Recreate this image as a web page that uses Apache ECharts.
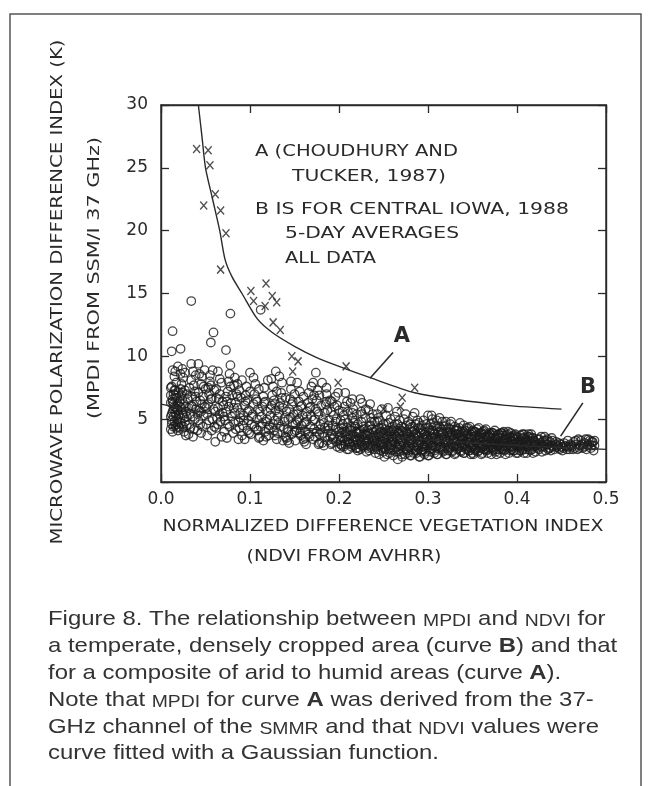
<!DOCTYPE html>
<html>
<head>
<meta charset="utf-8">
<script src="https://cdn.jsdelivr.net/npm/echarts@6/dist/echarts.min.js"></script>
<style>
html,body{margin:0;padding:0;background:#fff;}
#chart{width:649px;height:786px;}
</style>
</head>
<body>
<div id="chart"></div>
<script>
// ---------- DATA ----------
const xTicks = [0.0, 0.1, 0.2, 0.3, 0.4, 0.5];
const yTicks = [5, 10, 15, 20, 25, 30];

// Curve A (Choudhury and Tucker, 1987): [NDVI, MPDI]
const curveA = [[0.042,30],[0.046,27.5],[0.050,25],[0.058,22.5],[0.066,20],[0.072,17.7],[0.080,16.3],[0.091,15.0],[0.108,13.0],[0.125,11.9],[0.150,10.8],[0.175,9.9],[0.200,9.2],[0.235,8.3],[0.285,7.1],[0.327,6.6],[0.387,6.1],[0.450,5.8]];
// Curve B (central Iowa, 1988)
const curveB = [[0.0,6.2],[0.05,5.5],[0.10,4.9],[0.15,4.4],[0.20,4.0],[0.25,3.65],[0.30,3.35],[0.35,3.1],[0.40,2.9],[0.45,2.75],[0.50,2.6]];

// "x" points (composite of arid to humid areas)
const crossPts = [[0.040,26.5],[0.053,26.4],[0.055,25.2],[0.061,22.9],[0.048,22.0],[0.067,21.6],[0.073,19.8],[0.067,16.9],[0.101,15.2],[0.118,15.8],[0.104,14.4],[0.125,14.8],[0.130,14.3],[0.117,14.0],[0.126,12.7],[0.134,12.1],[0.147,10.0],[0.154,9.6],[0.148,8.8],[0.208,9.2],[0.199,7.9],[0.285,7.5],[0.271,6.7],[0.269,6.0],[0.250,5.8]];

// "o" points: central Iowa 1988, 5-day averages
const circlePts = [
[0.011,4.2],[0.012,4.9],[0.013,5.6],[0.011,6.3],[0.014,7.0],[0.012,7.6],[0.015,8.4],[0.013,8.9],[0.016,4.5],[0.017,5.3],[0.015,6.0],[0.018,6.7],[0.016,7.3],[0.019,4.1],[0.018,5.0],[0.014,5.8],[0.019,6.2],[0.017,7.9],[0.012,10.4],[0.013,12.0],[0.016,5.5],[0.013,6.6],[0.018,4.6],[0.015,4.8],[0.011,5.2],[0.019,5.7],[0.017,6.9],[0.014,4.4],
[0.021,4.3],[0.022,5.1],[0.023,5.9],[0.024,6.6],[0.022,7.4],[0.025,8.3],[0.022,10.6],[0.026,4.0],[0.027,4.8],[0.028,5.6],[0.026,6.2],[0.029,7.0],[0.027,8.7],[0.024,9.0],[0.028,3.7],[0.021,6.0],[0.025,5.3],[0.029,4.5],[0.023,7.8],[0.030,6.6],
[0.031,3.8],[0.032,4.6],[0.033,5.4],[0.034,6.1],[0.035,6.8],[0.032,7.5],[0.034,8.1],[0.036,8.8],[0.034,9.4],[0.034,14.4],[0.037,4.2],[0.038,5.0],[0.039,5.8],[0.036,3.6],[0.038,7.2],[0.040,6.4],[0.031,5.9],[0.039,8.5],
[0.041,4.1],[0.042,4.9],[0.043,5.7],[0.044,6.5],[0.042,7.1],[0.045,7.8],[0.042,9.4],[0.046,8.4],[0.047,4.4],[0.048,5.3],[0.049,6.0],[0.047,6.8],[0.050,7.4],[0.045,3.9],[0.049,8.9],
[0.051,4.6],[0.052,5.4],[0.053,6.2],[0.054,7.0],[0.056,7.7],[0.055,8.5],[0.056,11.1],[0.059,11.9],[0.057,4.1],[0.058,5.0],[0.059,5.8],[0.057,6.6],[0.060,7.3],[0.052,3.7],[0.055,8.0],[0.060,4.4],
[0.061,3.2],[0.062,4.3],[0.063,5.1],[0.064,5.9],[0.065,6.6],[0.062,7.4],[0.066,8.2],[0.067,4.8],[0.068,3.6],[0.069,5.5],[0.066,7.0],[0.070,6.1],[0.064,8.8],
[0.071,4.0],[0.072,4.9],[0.073,5.6],[0.074,6.4],[0.073,10.5],[0.075,7.2],[0.076,8.0],[0.078,9.3],[0.078,13.4],[0.077,4.4],[0.079,5.2],[0.076,6.0],[0.080,6.9],[0.074,3.5],[0.078,7.6],
[0.081,3.9],[0.082,4.7],[0.083,5.5],[0.084,6.3],[0.085,7.0],[0.086,7.8],[0.087,3.4],[0.088,4.3],[0.089,5.1],[0.086,5.9],[0.090,6.7],[0.083,8.3],[0.088,7.3],
[0.091,3.7],[0.092,4.5],[0.093,5.3],[0.094,6.1],[0.095,6.9],[0.096,7.6],[0.097,4.1],[0.098,4.9],[0.099,5.7],[0.097,6.5],[0.100,8.7],[0.094,3.4],[0.100,7.2],
[0.101,3.8],[0.102,4.6],[0.103,5.4],[0.104,6.2],[0.105,7.0],[0.106,7.8],[0.107,4.2],[0.108,5.0],[0.109,5.8],[0.107,6.6],[0.110,3.5],[0.104,8.3],[0.110,7.4],
[0.111,3.6],[0.112,4.4],[0.113,5.2],[0.112,13.7],[0.114,6.0],[0.115,6.8],[0.116,7.5],[0.117,4.0],[0.118,4.8],[0.119,5.6],[0.117,6.4],[0.120,8.1],[0.115,3.3],
[0.121,3.7],[0.122,4.5],[0.123,5.3],[0.124,6.1],[0.125,6.9],[0.126,7.6],[0.129,8.8],[0.127,4.1],[0.128,4.9],[0.129,5.7],[0.127,6.5],[0.130,3.4],[0.124,8.2],[0.130,7.2],
[0.131,3.9],[0.132,4.7],[0.133,5.5],[0.134,6.3],[0.135,7.1],[0.136,7.9],[0.137,3.3],[0.138,4.3],[0.139,5.1],[0.137,5.9],[0.140,6.7],[0.133,8.4],[0.140,3.6],
[0.141,3.5],[0.142,4.2],[0.143,5.0],[0.144,5.8],[0.145,6.6],[0.146,7.4],[0.147,3.8],[0.148,4.6],[0.149,5.4],[0.147,6.2],[0.150,7.0],[0.144,3.1],[0.150,4.0],[0.146,8.0],
[0.151,3.3],[0.152,4.1],[0.153,4.9],[0.154,5.7],[0.155,6.4],[0.156,7.2],[0.157,3.7],[0.158,4.5],[0.159,5.3],[0.157,6.0],[0.160,6.8],[0.153,7.9],[0.160,3.4],
[0.161,3.2],[0.162,4.0],[0.163,4.8],[0.164,5.6],[0.165,6.3],[0.166,7.1],[0.167,3.6],[0.168,4.4],[0.169,5.2],[0.167,5.9],[0.170,6.6],[0.171,7.9],[0.163,3.0],[0.169,7.6],
[0.171,3.4],[0.172,4.2],[0.173,5.0],[0.174,8.7],[0.174,5.8],[0.175,6.5],[0.176,7.3],[0.177,3.0],[0.178,3.8],[0.179,4.6],[0.177,5.4],[0.180,6.1],[0.181,7.9],[0.178,6.9],[0.175,4.0],
[0.181,3.1],[0.182,3.9],[0.183,4.7],[0.184,5.5],[0.185,6.2],[0.186,7.0],[0.187,3.3],[0.188,4.1],[0.189,4.9],[0.187,5.7],[0.190,6.5],[0.183,2.9],[0.190,3.6],[0.186,7.5],[0.184,4.3],
[0.191,3.0],[0.192,3.8],[0.193,4.5],[0.194,5.3],[0.195,6.0],[0.196,6.8],[0.197,3.2],[0.198,2.8],[0.199,4.2],[0.197,5.0],[0.200,5.7],[0.194,3.5],[0.200,4.0],[0.192,6.4],[0.199,7.1],[0.196,4.8],
[0.201,2.7],[0.202,3.3],[0.203,3.9],[0.204,4.6],[0.205,5.3],[0.206,6.0],[0.207,7.1],[0.207,3.0],[0.208,3.6],[0.209,4.3],[0.207,5.0],[0.210,5.6],[0.203,2.9],[0.206,4.0],[0.209,6.4],[0.204,3.5],[0.210,3.2],[0.202,4.9],
[0.211,2.6],[0.212,3.1],[0.213,3.7],[0.214,4.4],[0.215,5.1],[0.216,5.8],[0.217,2.9],[0.218,3.4],[0.219,4.0],[0.217,4.7],[0.220,5.4],[0.213,6.3],[0.216,3.2],[0.219,3.6],[0.212,4.2],[0.220,2.7],[0.215,6.6],[0.218,4.9],
[0.221,2.5],[0.222,3.0],[0.223,3.5],[0.224,4.1],[0.224,2.6],[0.225,4.8],[0.226,5.4],[0.226,6.3],[0.227,2.8],[0.228,3.3],[0.229,3.8],[0.227,4.4],[0.230,5.1],[0.224,6.6],[0.222,3.9],[0.229,2.9],[0.226,3.6],[0.221,4.6],[0.230,5.8],
[0.231,2.4],[0.232,2.9],[0.233,3.4],[0.234,3.9],[0.235,4.5],[0.236,5.1],[0.237,2.7],[0.238,3.2],[0.239,3.7],[0.237,4.2],[0.240,4.8],[0.233,5.7],[0.236,3.0],[0.239,3.5],[0.232,4.1],[0.240,2.6],[0.235,6.2],[0.238,5.4],[0.234,2.5],
[0.241,2.3],[0.242,2.8],[0.243,3.3],[0.244,3.8],[0.245,4.3],[0.246,4.9],[0.247,2.5],[0.248,3.0],[0.249,3.5],[0.247,4.0],[0.250,4.6],[0.248,5.8],[0.243,5.4],[0.246,3.1],[0.249,2.7],[0.242,3.6],[0.250,3.9],[0.245,2.2],[0.244,5.1],[0.250,2.4],
[0.251,2.0],[0.252,2.6],[0.253,3.1],[0.254,3.6],[0.255,4.1],[0.256,4.7],[0.257,2.3],[0.258,2.9],[0.259,3.4],[0.257,3.9],[0.260,4.4],[0.253,5.3],[0.256,2.7],[0.259,3.2],[0.252,3.8],[0.260,2.5],[0.255,5.9],[0.258,5.0],[0.254,2.2],[0.260,3.6],
[0.261,2.1],[0.262,2.6],[0.263,3.1],[0.264,3.6],[0.265,4.1],[0.266,4.6],[0.266,1.8],[0.267,2.4],[0.268,2.9],[0.269,3.4],[0.267,3.9],[0.270,4.4],[0.263,5.2],[0.266,2.8],[0.269,3.2],[0.262,3.8],[0.270,2.2],[0.265,5.6],[0.268,4.9],[0.264,2.4],
[0.271,2.0],[0.272,2.5],[0.273,3.0],[0.274,3.5],[0.275,4.0],[0.276,4.5],[0.277,2.3],[0.278,2.8],[0.279,3.3],[0.277,3.8],[0.280,4.3],[0.273,5.0],[0.276,2.6],[0.279,3.1],[0.272,3.7],[0.280,2.1],[0.275,5.4],[0.278,4.8],[0.274,2.2],[0.280,3.5],
[0.281,2.1],[0.282,2.6],[0.283,3.1],[0.284,3.6],[0.285,4.1],[0.286,4.6],[0.287,2.3],[0.288,2.8],[0.289,3.3],[0.287,3.8],[0.290,4.3],[0.283,5.2],[0.286,2.5],[0.289,3.0],[0.282,3.4],[0.290,2.0],[0.285,5.5],[0.288,4.9],[0.284,2.3],[0.290,3.6],
[0.291,2.0],[0.292,2.5],[0.293,3.0],[0.294,3.5],[0.295,4.0],[0.295,4.9],[0.296,2.2],[0.297,2.7],[0.298,3.2],[0.299,3.7],[0.297,4.3],[0.300,5.3],[0.293,2.4],[0.296,2.9],[0.299,3.4],[0.292,3.9],[0.300,2.1],[0.298,4.6],[0.294,2.6],[0.300,3.1],
[0.301,2.1],[0.302,2.6],[0.303,3.1],[0.304,3.6],[0.304,5.3],[0.305,4.1],[0.306,4.7],[0.307,2.3],[0.308,2.8],[0.309,3.3],[0.307,3.8],[0.310,4.4],[0.303,2.4],[0.306,2.9],[0.309,3.4],[0.302,3.9],[0.310,2.2],[0.305,5.0],[0.308,4.5],[0.304,2.7],
[0.311,2.2],[0.312,2.7],[0.313,3.2],[0.314,3.7],[0.315,4.2],[0.316,4.8],[0.317,2.4],[0.318,2.9],[0.319,3.4],[0.317,3.9],[0.320,4.5],[0.313,5.1],[0.316,2.6],[0.319,3.1],[0.312,3.5],[0.320,2.2],[0.315,4.0],[0.318,4.4],
[0.321,2.2],[0.322,2.7],[0.323,3.2],[0.324,3.7],[0.325,4.2],[0.326,4.8],[0.327,2.4],[0.328,2.9],[0.329,3.4],[0.327,3.9],[0.330,4.4],[0.323,2.5],[0.326,3.0],[0.329,3.5],[0.322,4.0],[0.330,2.2],[0.325,4.6],[0.328,3.7],
[0.331,2.3],[0.332,2.8],[0.333,3.3],[0.334,3.8],[0.335,4.3],[0.336,4.7],[0.337,2.5],[0.338,3.0],[0.339,3.5],[0.337,4.0],[0.340,4.5],[0.333,2.6],[0.336,3.1],[0.339,3.6],[0.332,4.1],[0.340,2.3],[0.335,2.9],[0.338,3.4],
[0.341,2.3],[0.342,2.8],[0.343,3.3],[0.344,3.8],[0.345,4.3],[0.346,2.5],[0.347,3.0],[0.348,3.5],[0.349,4.0],[0.347,4.4],[0.350,2.3],[0.343,2.6],[0.346,3.1],[0.349,3.6],[0.342,4.1],[0.350,2.8],[0.345,3.4],[0.348,2.2],
[0.351,2.2],[0.352,2.7],[0.353,3.2],[0.354,3.7],[0.355,4.2],[0.356,2.4],[0.357,2.9],[0.358,3.4],[0.359,3.9],[0.357,4.3],[0.360,2.2],[0.353,2.5],[0.356,3.0],[0.359,3.5],[0.352,4.0],[0.360,2.7],[0.355,3.3],[0.358,3.8],
[0.361,2.3],[0.362,2.8],[0.363,3.3],[0.364,3.8],[0.365,4.2],[0.366,2.5],[0.367,3.0],[0.368,3.5],[0.369,3.9],[0.367,2.3],[0.370,2.7],[0.363,2.6],[0.366,3.1],[0.369,3.6],[0.362,4.0],[0.370,3.2],[0.365,3.6],
[0.371,2.2],[0.372,2.7],[0.373,3.2],[0.374,3.7],[0.375,4.1],[0.376,2.4],[0.377,2.9],[0.378,3.4],[0.379,3.8],[0.377,2.2],[0.380,2.6],[0.373,2.5],[0.376,3.0],[0.379,3.5],[0.372,3.9],[0.380,3.1],[0.375,3.5],
[0.381,2.3],[0.382,2.8],[0.383,3.2],[0.384,3.7],[0.385,4.0],[0.386,2.5],[0.387,2.9],[0.388,3.4],[0.389,3.8],[0.387,2.2],[0.390,2.7],[0.383,2.6],[0.386,3.1],[0.389,3.5],[0.382,3.9],[0.390,3.2],
[0.391,2.3],[0.392,2.8],[0.393,3.3],[0.393,3.9],[0.395,3.6],[0.396,2.5],[0.397,3.0],[0.398,3.4],[0.399,2.3],[0.400,2.8],[0.394,2.6],[0.397,3.7],[0.400,3.2],[0.392,3.5],
[0.401,2.3],[0.402,2.8],[0.403,3.3],[0.404,3.7],[0.405,2.5],[0.406,3.0],[0.407,3.5],[0.408,2.3],[0.409,2.8],[0.410,3.2],[0.404,3.0],[0.408,3.8],[0.403,2.5],[0.410,2.6],
[0.411,2.3],[0.412,2.8],[0.412,3.3],[0.413,3.8],[0.415,2.5],[0.416,3.0],[0.417,3.5],[0.418,2.3],[0.419,2.8],[0.420,3.2],[0.414,3.6],[0.419,3.0],
[0.421,2.4],[0.422,2.9],[0.423,3.4],[0.425,2.6],[0.426,3.1],[0.427,3.6],[0.428,2.4],[0.429,2.9],[0.430,3.3],[0.424,3.0],[0.431,3.6],
[0.432,2.5],[0.433,3.0],[0.434,3.4],[0.436,2.7],[0.437,3.2],[0.438,2.5],[0.439,2.9],[0.440,3.3],[0.435,2.6],
[0.442,2.6],[0.443,3.0],[0.445,2.8],[0.446,2.9],[0.448,2.6],[0.450,2.8],[0.447,3.1],
[0.452,2.7],[0.454,2.9],[0.456,2.6],[0.458,2.8],[0.460,3.0],[0.457,3.3],
[0.462,2.8],[0.464,3.2],[0.465,2.7],[0.467,3.0],[0.469,3.4],[0.468,2.6],
[0.471,2.9],[0.472,3.3],[0.474,2.7],[0.476,3.1],[0.478,2.6],[0.477,3.4],[0.479,2.9],
[0.481,3.0],[0.482,3.3],[0.483,2.7],[0.485,3.2],[0.486,2.5],[0.484,2.9]
];
// additional "o" points in the densest parts of the cloud
const circlePtsDense = [
[0.012,4.6],[0.014,5.2],[0.016,5.9],[0.013,6.4],[0.011,6.9],[0.015,7.3],[0.017,4.3],[0.019,4.8],[0.012,5.4],[0.018,5.8],[0.014,6.2],[0.016,6.7],[0.020,7.1],[0.011,7.5],[0.013,4.0],[0.020,5.4],[0.022,4.7],[0.024,5.5],[0.021,6.4],[0.023,6.9],[0.026,5.1],[0.025,4.4],[0.028,6.0],[0.027,7.3],[0.020,4.4],[0.024,7.1],[0.029,5.2],[0.016,8.8],[0.022,8.6],[0.019,9.2],
[0.033,4.3],[0.036,5.2],[0.035,6.0],[0.037,7.7],[0.041,5.4],[0.044,4.6],[0.046,6.2],[0.043,8.6],[0.048,7.6],[0.051,5.9],[0.054,4.9],[0.056,6.6],[0.058,8.9],[0.053,7.5],[0.062,6.7],[0.064,4.6],[0.066,5.4],[0.068,7.9],[0.071,5.2],[0.073,6.8],[0.075,4.6],[0.077,8.6],[0.079,6.3],[0.082,5.9],[0.084,4.2],[0.086,6.8],[0.089,5.5],[0.091,8.1],[0.093,4.9],[0.095,6.4],[0.097,5.6],[0.099,3.9],[0.045,5.6],[0.039,6.8],[0.069,6.4],[0.082,7.7],[0.061,5.6],[0.087,4.8],
[0.102,5.2],[0.105,4.4],[0.108,6.4],[0.111,5.6],[0.114,4.7],[0.116,6.3],[0.119,5.0],[0.121,4.2],[0.123,5.8],[0.126,4.6],[0.128,6.2],[0.131,5.2],[0.134,4.4],[0.136,6.7],[0.139,4.8],[0.141,5.6],[0.143,4.0],[0.146,5.1],[0.148,6.4],[0.151,4.6],[0.153,5.4],[0.156,3.9],[0.158,6.1],[0.161,4.7],[0.164,5.2],[0.166,3.8],[0.168,6.0],[0.171,4.9],[0.173,3.6],[0.176,5.6],[0.179,4.2],[0.182,5.0],[0.184,3.6],[0.186,6.4],[0.188,4.5],[0.191,5.6],[0.193,3.4],[0.196,4.3],[0.198,6.1],[0.118,3.6],[0.128,3.7],[0.142,3.3],[0.162,3.5],[0.178,3.1],[0.192,3.1],[0.109,4.1],[0.133,6.0],[0.157,4.2],[0.172,6.9],[0.155,5.0],
[0.201,3.6],[0.203,4.3],[0.205,2.8],[0.206,3.3],[0.208,4.0],[0.209,2.6],[0.204,5.6],[0.210,4.7],[0.202,3.0],[0.207,3.8],
[0.211,3.4],[0.213,4.1],[0.214,2.8],[0.216,3.6],[0.218,4.4],[0.219,2.7],[0.215,5.5],[0.220,3.9],[0.212,3.0],[0.217,3.3],
[0.221,3.3],[0.223,4.0],[0.224,3.1],[0.226,2.9],[0.228,4.2],[0.229,3.4],[0.225,5.6],[0.230,3.7],[0.222,2.7],[0.227,3.8],
[0.231,3.2],[0.232,3.7],[0.234,4.4],[0.235,2.8],[0.237,3.5],[0.239,4.0],[0.233,2.7],[0.240,3.3],[0.236,4.8],[0.238,2.9],
[0.241,3.1],[0.242,4.1],[0.244,2.6],[0.245,3.6],[0.247,2.9],[0.248,4.3],[0.243,4.8],[0.249,3.2],[0.246,3.9],[0.250,2.8],
[0.251,3.4],[0.252,4.2],[0.254,2.9],[0.255,3.7],[0.257,2.6],[0.258,4.0],[0.253,4.6],[0.259,3.0],[0.256,3.4],[0.260,4.1],
[0.261,3.3],[0.262,4.2],[0.264,2.8],[0.265,3.6],[0.267,2.6],[0.268,3.9],[0.263,4.6],[0.269,2.9],[0.266,3.4],[0.270,4.1],
[0.271,3.2],[0.272,4.0],[0.274,2.7],[0.275,3.4],[0.277,2.5],[0.278,3.6],[0.273,4.3],[0.279,2.8],[0.276,3.9],[0.280,4.6],
[0.281,3.3],[0.282,4.0],[0.284,2.8],[0.285,3.5],[0.287,2.5],[0.288,3.7],[0.283,4.4],[0.289,2.7],[0.286,3.9],[0.290,4.7],
[0.291,3.2],[0.292,4.2],[0.294,2.8],[0.295,3.4],[0.297,2.4],[0.298,3.6],[0.293,4.5],[0.299,2.9],[0.296,3.8],[0.300,4.3],
[0.301,3.3],[0.302,4.1],[0.304,2.9],[0.305,3.5],[0.307,2.5],[0.308,3.6],[0.303,4.6],[0.309,2.7],[0.306,3.9],[0.310,4.9],
[0.311,3.2],[0.312,4.0],[0.314,2.8],[0.315,3.4],[0.317,2.5],[0.318,3.6],[0.313,4.4],[0.319,2.7],[0.316,3.9],[0.320,4.8],
[0.321,3.2],[0.322,3.9],[0.324,2.8],[0.325,3.5],[0.327,2.5],[0.328,3.3],[0.323,4.3],[0.329,2.8],[0.326,3.8],[0.330,4.1],
[0.331,3.1],[0.332,3.8],[0.334,2.7],[0.335,3.5],[0.337,2.4],[0.338,3.3],[0.333,4.2],[0.339,2.8],[0.336,3.7],[0.340,4.0],
[0.341,3.1],[0.342,3.7],[0.344,2.6],[0.345,3.2],[0.347,2.5],[0.348,3.8],[0.343,4.3],[0.349,2.7],[0.346,3.5],[0.350,4.1],
[0.351,3.0],[0.352,3.6],[0.354,2.6],[0.355,3.1],[0.357,2.5],[0.358,3.6],[0.353,4.0],[0.359,2.7],[0.356,3.4],[0.360,3.9],
[0.361,3.0],[0.362,3.5],[0.364,2.6],[0.365,3.0],[0.367,2.6],[0.368,3.7],[0.363,4.1],[0.369,2.8],[0.366,3.4],[0.370,3.8],
[0.371,3.0],[0.372,3.5],[0.374,2.6],[0.375,3.1],[0.377,2.6],[0.378,3.7],[0.373,3.9],[0.379,2.9],[0.376,3.4],[0.380,3.8],
[0.381,3.0],[0.382,3.5],[0.384,2.6],[0.385,3.3],[0.387,2.6],[0.388,3.7],[0.383,3.9],[0.389,2.9],[0.386,3.4],[0.390,4.0],
[0.391,3.0],[0.392,3.6],[0.394,2.8],[0.395,3.2],[0.397,2.5],[0.398,3.8],[0.393,2.5],[0.399,3.1],[0.396,3.5],[0.400,3.6],
[0.401,3.0],[0.402,3.5],[0.404,2.7],[0.405,3.2],[0.407,2.6],[0.408,3.5],[0.403,2.9],[0.409,3.1],[0.406,3.8],[0.410,3.4],
[0.411,3.0],[0.412,3.6],[0.414,2.6],[0.415,3.3],[0.417,2.6],[0.418,3.5],[0.413,2.9],[0.419,3.3],[0.416,3.8],[0.420,2.9],
[0.421,3.1],[0.423,2.7],[0.425,3.4],[0.427,2.8],[0.429,3.2],[0.431,2.8],[0.433,3.3],[0.435,3.0],[0.437,2.7],[0.439,3.5],[0.441,2.8],[0.444,3.2],
[0.447,2.7],[0.449,3.0],[0.451,2.5],[0.453,3.1],[0.455,2.8],[0.459,2.6],[0.461,2.9],[0.463,2.6],[0.466,3.3],[0.470,2.7],[0.473,3.0],[0.475,2.8],[0.480,3.4],[0.484,3.2],[0.487,2.9],[0.487,3.3]
];

// Leader lines for the curve labels (data coordinates)
const leaderA = [[0.2607,10.3],[0.2348,8.25]];
const leaderB = [[0.474,6.3],[0.449,3.65]];

// ---------- TEXT ----------
const INK = '#2a2a2a';
const PF = '"DejaVu Sans", Verdana, sans-serif';
const CF = '"Liberation Sans", Arial, sans-serif';

const cv = document.createElement('canvas').getContext('2d');
function tw(text, font){ cv.font = font; return cv.measureText(text).width; }

const plotFont = '16px ' + PF;
const annot = [
  {t:'A (CHOUDHURY AND', x:255, y:152, w:203},
  {t:'TUCKER, 1987)', x:292, y:177, w:154},
  {t:'B IS FOR CENTRAL IOWA, 1988', x:255, y:210, w:314},
  {t:'5-DAY AVERAGES', x:285, y:234, w:174},
  {t:'ALL DATA', x:285, y:259, w:91}
];

const graphics = [];
graphics.push({type:'rect', silent:true, shape:{x:10,y:14,width:631,height:800}, style:{fill:'none', stroke:'#555', lineWidth:1.5}});

annot.forEach(a=>{
  graphics.push({type:'text', silent:true, x:a.x, y:a.y, scaleX:a.w/tw(a.t, plotFont),
    style:{text:a.t, font:plotFont, fill:INK, textAlign:'left', align:'left', textVerticalAlign:'middle', verticalAlign:'middle'}});
});

function centered(t, cx, cy, w, rot, font){
  graphics.push({type:'text', silent:true, x:cx, y:cy, rotation:rot||0, scaleX:w/tw(t,font),
    style:{text:t, font:font, fill:INK, textAlign:'center', align:'center', textVerticalAlign:'middle', verticalAlign:'middle'}});
}
centered('NORMALIZED DIFFERENCE VEGETATION INDEX', 383, 527, 441, 0, plotFont);
centered('(NDVI FROM AVHRR)', 344, 557, 195, 0, plotFont);
centered('MICROWAVE POLARIZATION DIFFERENCE INDEX (K)', 58, 292, 505, Math.PI/2, plotFont);
centered('(MPDI FROM SSM/I 37 GHz)', 95, 278, 282, Math.PI/2, plotFont);

// curve labels
const bigFont = 'bold 21px ' + PF;
graphics.push({type:'text', silent:true, x:402, y:337, style:{text:'A', font:bigFont, fill:INK, textAlign:'center', align:'center', textVerticalAlign:'middle', verticalAlign:'middle'}});
graphics.push({type:'text', silent:true, x:588, y:388, style:{text:'B', font:bigFont, fill:INK, textAlign:'center', align:'center', textVerticalAlign:'middle', verticalAlign:'middle'}});

// caption (rich text with small caps)
const capStyles = {
  n:{font:'21px '+CF, fontSize:21},
  s:{font:'17px '+CF, fontSize:17},
  b:{font:'bold 21px '+CF, fontSize:21, fontWeight:'bold'}
};
const captionLines = [
  [['n','Figure 8. The relationship between '],['s','MPDI'],['n',' and '],['s','NDVI'],['n',' for']],
  [['n','a temperate, densely cropped area (curve '],['b','B'],['n',') and that']],
  [['n','for a composite of arid to humid areas (curve '],['b','A'],['n',').']],
  [['n','Note that '],['s','MPDI'],['n',' for curve '],['b','A'],['n',' was derived from the 37-']],
  [['n','GHz channel of the '],['s','SMMR'],['n',' and that '],['s','NDVI'],['n',' values were']],
  [['n','curve fitted with a Gaussian function.']]
];
const capRight = [602, 615, 565, 598, 596, 439];
const capY = [619, 646, 673, 700, 727, 753];
let scales = captionLines.map((ln,i)=>{
  let w = 0; ln.forEach(s=>{ w += tw(s[1], capStyles[s[0]].font); });
  return (capRight[i]-48)/w;
});
const capScale = scales.reduce((a,b)=>a+b,0)/scales.length;
captionLines.forEach((ln,i)=>{
  const txt = ln.map(s=>'{'+s[0]+'|'+s[1]+'}').join('');
  const rich = {};
  Object.keys(capStyles).forEach(k=>{
    rich[k] = {fontSize:capStyles[k].fontSize, fontFamily:CF, fontWeight:capStyles[k].fontWeight||'normal', fill:'#333', color:'#333', verticalAlign:'bottom'};
  });
  graphics.push({type:'text', silent:true, x:48, y:capY[i], scaleX:capScale,
    style:{text:txt, rich:rich, font:'21px '+CF, fill:'#333', textAlign:'left', align:'left', textVerticalAlign:'middle', verticalAlign:'middle'}});
});

// ---------- CHART ----------
const chart = echarts.init(document.getElementById('chart'), null, {renderer:'canvas'});
const axisLine = () => ({show:true, onZero:false, lineStyle:{color:'#2a2a2a', width:1.4}});
const tick = () => ({show:true, inside:true, length:8, lineStyle:{color:'#2a2a2a', width:1.3}});
const lbl = {fontSize:17, fontFamily:PF, color:INK};

chart.setOption({
  animation:false,
  backgroundColor:'#fff',
  grid:{left:161, right:43, top:105, bottom:304, containLabel:false, show:true, backgroundColor:'transparent', borderColor:'#2a2a2a', borderWidth:1.4},
  xAxis:[
    {type:'value', min:xTicks[0], max:xTicks[xTicks.length-1], interval:0.1, position:'bottom',
     axisLine:axisLine(), axisTick:tick(), splitLine:{show:false},
     axisLabel:Object.assign({margin:9, formatter:v=>v.toFixed(1)}, lbl)},
    {type:'value', min:xTicks[0], max:xTicks[xTicks.length-1], interval:0.1, position:'top',
     axisLine:axisLine(), axisTick:tick(), splitLine:{show:false}, axisLabel:{show:false}}
  ],
  yAxis:[
    {type:'value', min:0, max:yTicks[yTicks.length-1], interval:5, position:'left',
     axisLine:axisLine(), axisTick:tick(), splitLine:{show:false},
     axisLabel:Object.assign({margin:13, formatter:v=>v===0?'':String(v)}, lbl)},
    {type:'value', min:0, max:yTicks[yTicks.length-1], interval:5, position:'right',
     axisLine:axisLine(), axisTick:tick(), splitLine:{show:false}, axisLabel:{show:false}}
  ],
  series:[
    {type:'line', name:'Curve B', data:curveB, showSymbol:false, smooth:0.3, silent:true,
     lineStyle:{color:'#2a2a2a', width:1.4}},
    {type:'scatter', name:'B data', data:circlePts.concat(circlePtsDense), symbol:'circle', symbolSize:8.5, silent:true,
     itemStyle:{color:'rgba(255,255,255,0)', borderColor:'#1c1c1c', borderWidth:1.3}},
    {type:'line', name:'Curve A', data:curveA, showSymbol:false, smooth:0.25, silent:true,
     lineStyle:{color:'#2a2a2a', width:1.4}},
    {type:'scatter', name:'A data', data:crossPts, symbol:'path://M0,0L10,12M10,0L0,12', symbolSize:[7,8], silent:true,
     itemStyle:{color:'rgba(255,255,255,0)', borderColor:'#222', borderWidth:1.4}},
    {type:'line', data:leaderA, xAxisIndex:1, yAxisIndex:1, showSymbol:false, silent:true, lineStyle:{color:'#2a2a2a', width:1.6}},
    {type:'line', data:leaderB, xAxisIndex:1, yAxisIndex:1, showSymbol:false, silent:true, lineStyle:{color:'#2a2a2a', width:1.6}}
  ],
  graphic:graphics
});
</script>
</body>
</html>
